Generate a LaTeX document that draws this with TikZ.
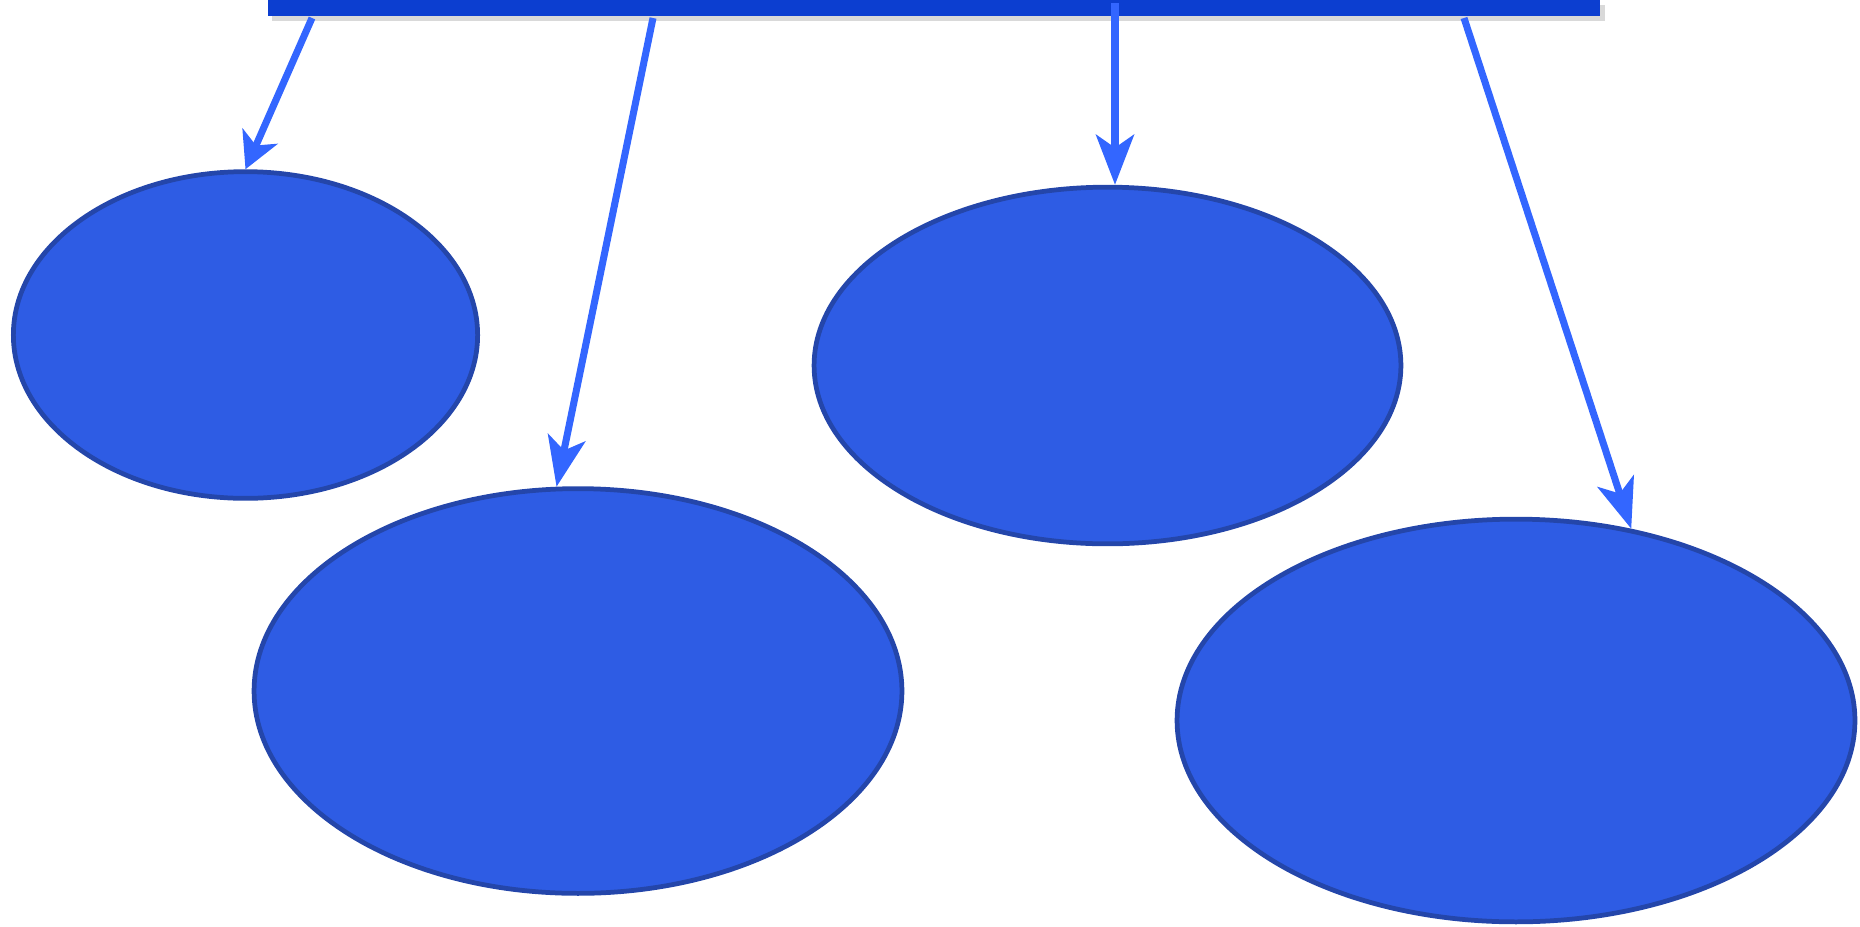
\documentclass[tikz,border=0pt]{standalone}
\usepackage{xcolor}
\usepackage{tikz}
\usetikzlibrary{arrows.meta,positioning,shapes.geometric,shadows}

\definecolor{barblue}{RGB}{12,62,208}
\definecolor{linkblue}{RGB}{51,102,255}
\definecolor{ovalfill}{RGB}{46,92,228}
\definecolor{ovalline}{RGB}{36,70,170}

\begin{document}
\begin{tikzpicture}[
  x=0.01cm, y=-0.01cm,
  >={Stealth[length=0.5cm, width=0.38cm, inset=0.13cm]},
  blob/.style={ellipse, draw=ovalline, fill=ovalfill, line width=1.35pt, inner sep=0pt},
  link/.style={->, draw=linkblue, fill=linkblue, line width=2pt},
]
\useasboundingbox (0,0) rectangle (1860,927);

% Top bar
\node[fill=barblue, inner sep=0pt, minimum width=13.32cm, minimum height=0.16cm,
  drop shadow={shadow xshift=1.2pt, shadow yshift=-1.5pt, opacity=0.3}] (hub) at (934,8) {};

% Ovals
\node[blob, minimum width=4.64cm, minimum height=3.265cm] (ovalA) at (245.5,335) {};
\node[blob, minimum width=6.475cm, minimum height=4.045cm] (ovalB) at (578,691) {};
\node[blob, minimum width=5.865cm, minimum height=3.565cm] (ovalC) at (1107.5,365.5) {};
\node[blob, minimum width=6.775cm, minimum height=4.025cm] (ovalD) at (1516,720.5) {};

% Links from the bar
\coordinate (startA) at (312,18);
\coordinate (startB) at (653,18);
\coordinate (startC) at (1115,3);
\coordinate (startD) at (1464,18);

\draw[link, >={Stealth[length=0.36cm, width=0.38cm, inset=0.1cm]}] (startA) -- (ovalA.north);
\draw[link] (startB) -- (ovalB.96);
\draw[link] (startC) -- (startC |- ovalC.north);
\draw[link] (startD) -- (ovalD.59);
\end{tikzpicture}
\end{document}
